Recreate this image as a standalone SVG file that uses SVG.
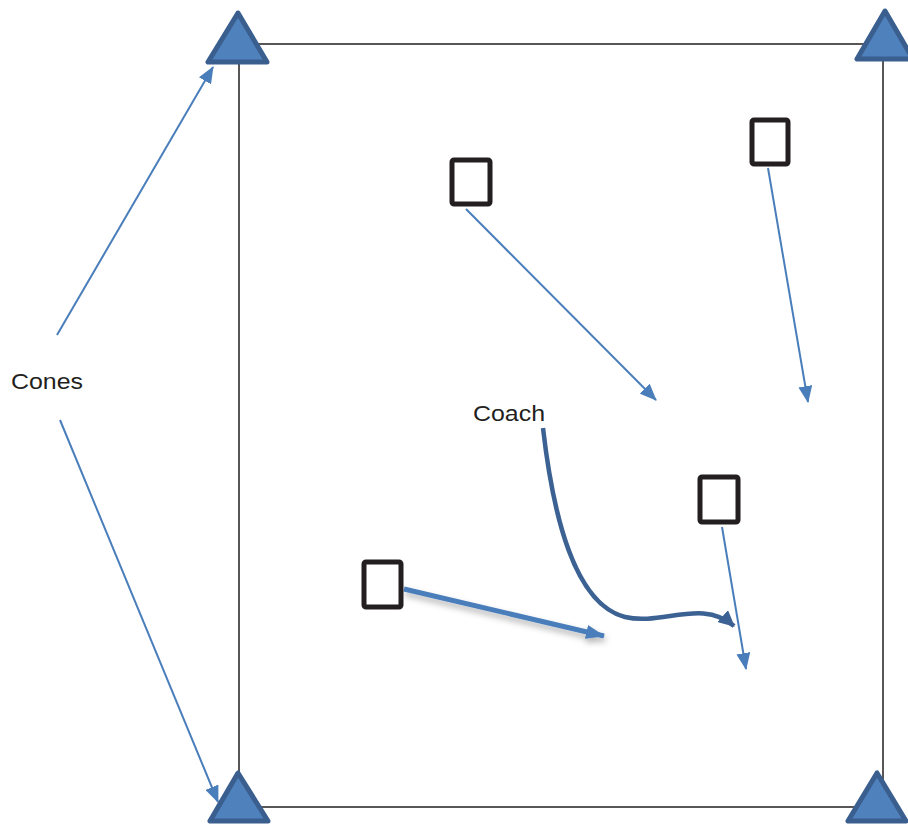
<svg xmlns="http://www.w3.org/2000/svg" width="908" height="825" viewBox="0 0 908 825">
<style>
.cone{fill:#4f81bd;stroke:#3a5f8f;stroke-width:5;stroke-linejoin:round}
.player{fill:#fff;stroke:#231f20;stroke-width:5}
.arr{fill:none;stroke:#4a7ebb;stroke-width:2}
.lbl{font-family:"Liberation Sans","Open Sans",sans-serif;font-size:22px;fill:#231f20}
</style>
<defs>
<marker id="ah" markerUnits="userSpaceOnUse" markerWidth="18" markerHeight="14" refX="16" refY="7" orient="auto">
<path d="M0,0 L17,7 L0,14 Z" fill="#4a7ebb"/>
</marker>
<marker id="ahThick" markerUnits="userSpaceOnUse" markerWidth="20" markerHeight="14" refX="18" refY="7" orient="auto">
<path d="M0,0 L19,7 L0,14 Z" fill="#4a7ebb"/>
</marker>
<marker id="ahCoach" markerUnits="userSpaceOnUse" markerWidth="18" markerHeight="16" refX="15" refY="8" orient="auto">
<path d="M0,0 L16,8 L0,16 Z" fill="#3c6193"/>
</marker>
<filter id="sh" x="-10%" y="-50%" width="120%" height="200%">
<feDropShadow dx="1" dy="4" stdDeviation="3" flood-color="#000" flood-opacity="0.3"/>
</filter>
</defs>
<rect id="field" x="239" y="44" width="644" height="763" fill="none" stroke="#231f20" stroke-width="1.5"/>
<g id="connectors">
<line class="arr" x1="57" y1="335" x2="213" y2="67" marker-end="url(#ah)"/>
<line class="arr" x1="60" y1="420" x2="218" y2="802" marker-end="url(#ah)"/>
<line class="arr" x1="466" y1="209" x2="656" y2="400" marker-end="url(#ah)"/>
<line class="arr" x1="768" y1="168" x2="808" y2="402" marker-end="url(#ah)"/>
<line class="arr" x1="722" y1="527" x2="746" y2="669" marker-end="url(#ah)"/>
<line x1="404" y1="589" x2="604" y2="636" stroke="#4a7ebb" stroke-width="5" marker-end="url(#ahThick)" filter="url(#sh)"/>
<path d="M543,428 C553,515 574,604 625,617 C662,626 702,598 734,626" fill="none" stroke="#3c6193" stroke-width="4.5" marker-end="url(#ahCoach)"/>
</g>
<g id="cone-tl"><polygon class="cone" points="238,13 208,62 267,62"/></g>
<g id="cone-tr"><polygon class="cone" points="885,11 857,59 913,59"/></g>
<g id="cone-bl"><polygon class="cone" points="238,773 210,821 268,821"/></g>
<g id="cone-br"><polygon class="cone" points="877,773 848,821 906,821"/></g>
<g id="player1"><rect class="player" x="452" y="160" width="38" height="44" rx="2"/></g>
<g id="player2"><rect class="player" x="752" y="120" width="36" height="44" rx="2"/></g>
<g id="player3"><rect class="player" x="700" y="477" width="38" height="45" rx="2"/></g>
<g id="player4"><rect class="player" x="364" y="562" width="37" height="45" rx="2"/></g>
<g id="label-cones"><text class="lbl" x="11" y="389" textLength="72" lengthAdjust="spacingAndGlyphs">Cones</text></g>
<g id="label-coach"><text class="lbl" x="473" y="421" textLength="72" lengthAdjust="spacingAndGlyphs">Coach</text></g>
</svg>
